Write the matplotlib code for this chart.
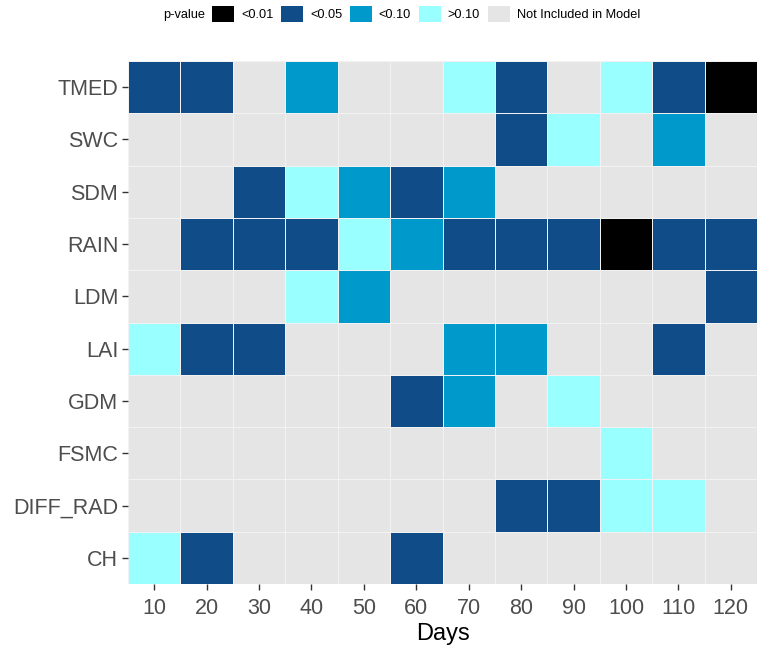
import numpy as np
import matplotlib
matplotlib.use("Agg")
import matplotlib.pyplot as plt
from matplotlib.colors import ListedColormap, BoundaryNorm
from matplotlib.patches import Patch

plt.rcParams["font.family"] = ["Liberation Sans", "DejaVu Sans"]

# Data: rows top -> bottom, columns = days
days = [10, 20, 30, 40, 50, 60, 70, 80, 90, 100, 110, 120]
variables = ["TMED", "SWC", "SDM", "RAIN", "LDM", "LAI", "GDM", "FSMC", "DIFF_RAD", "CH"]
# 0 = not included, 1 = >0.10, 2 = <0.10, 3 = <0.05, 4 = <0.01
tmed     = [3, 3, 0, 2, 0, 0, 1, 3, 0, 1, 3, 4]
swc      = [0, 0, 0, 0, 0, 0, 0, 3, 1, 0, 2, 0]
sdm      = [0, 0, 3, 1, 2, 3, 2, 0, 0, 0, 0, 0]
rain     = [0, 3, 3, 3, 1, 2, 3, 3, 3, 4, 3, 3]
ldm      = [0, 0, 0, 1, 2, 0, 0, 0, 0, 0, 0, 3]
lai      = [1, 3, 3, 0, 0, 0, 2, 2, 0, 0, 3, 0]
gdm      = [0, 0, 0, 0, 0, 3, 2, 0, 1, 0, 0, 0]
fsmc     = [0, 0, 0, 0, 0, 0, 0, 0, 0, 1, 0, 0]
diff_rad = [0, 0, 0, 0, 0, 0, 0, 3, 3, 1, 1, 0]
ch       = [1, 3, 0, 0, 0, 3, 0, 0, 0, 0, 0, 0]

level_labels = ["Not Included in Model", ">0.10", "<0.10", "<0.05", "<0.01"]
level_colors = ["#E5E5E5", "#99FFFF", "#0099CC", "#0F4C88", "#000000"]

grid = np.array([tmed, swc, sdm, rain, ldm, lai, gdm, fsmc, diff_rad, ch])

fig = plt.figure(figsize=(7.61, 6.57), dpi=100)
ax = fig.add_axes([128 / 761, 1 - 584 / 657, 629 / 761, 523 / 657])

cmap = ListedColormap(level_colors)
norm = BoundaryNorm(np.arange(-0.5, 5.5, 1), cmap.N)
ax.pcolormesh(np.arange(len(days) + 1), np.arange(len(variables) + 1), grid,
              cmap=cmap, norm=norm, edgecolors="#F2F2F2", linewidth=0.4)

ax.set_xlim(0, len(days))
ax.set_ylim(len(variables), 0)
ax.set_xticks(np.arange(len(days)) + 0.5)
ax.set_xticklabels(days)
ax.set_yticks(np.arange(len(variables)) + 0.5)
ax.set_yticklabels(variables)
ax.tick_params(axis="both", labelsize=15.5, colors="#333333", labelcolor="#4D4D4D",
               length=4, width=1)
ax.tick_params(axis="x", pad=6)
ax.tick_params(axis="y", pad=3)
for s in ax.spines.values():
    s.set_visible(False)
ax.set_xlabel("Days", fontsize=17, color="black", labelpad=3)

# legend at top
fig.text(163 / 761, 1 - 15 / 657, "p-value", fontsize=9.2, va="center", ha="left")
order = [4, 3, 2, 1, 0]
handles = [Patch(facecolor=level_colors[i], edgecolor="none") for i in order]
labels = [level_labels[i] for i in order]
fig.legend(handles, labels, loc="center left", bbox_to_anchor=(212 / 761, 1 - 14 / 657),
           ncol=5, frameon=False, fontsize=9.2, handlelength=1.72, handleheight=1.57,
           handletextpad=0.55, columnspacing=0.6, borderaxespad=0, borderpad=0)

fig.savefig("out.png", dpi=100)
